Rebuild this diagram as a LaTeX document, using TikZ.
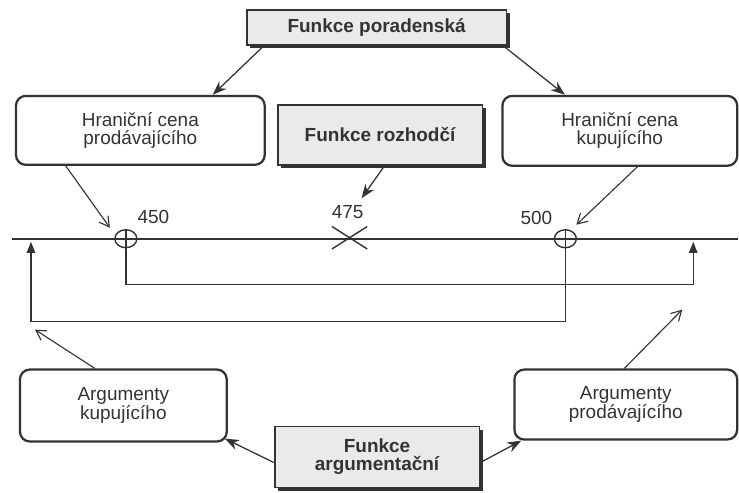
\documentclass[tikz,border=0pt]{standalone}
\usepackage{fontspec}
\setmainfont{Liberation Sans}
\usetikzlibrary{arrows.meta,shadows,shapes.geometric,shapes.misc,calc}
\definecolor{ink}{HTML}{333333}
\definecolor{boxgray}{HTML}{EAEAEA}

\begin{document}
\begin{tikzpicture}[x=0.025cm,y=-0.025cm,
  every node/.style={text=ink,font=\fontsize{13.5}{13}\selectfont,align=center},
  sel/.style={draw=ink,line width=1.6pt,rounded corners=7pt,fill=white},
  fun/.style={draw=ink,line width=1.3pt,fill=boxgray,font=\bfseries\fontsize{13.5}{13}\selectfont,
    drop shadow={shadow xshift=2.2pt,shadow yshift=-2.2pt,fill=ink,opacity=1}},
  pt/.style={draw=ink,ellipse,line width=1pt,minimum width=0.55cm,minimum height=0.45cm,inner sep=0pt},
  ar/.style={draw=ink,line width=0.9pt,-{Stealth[length=10pt,width=7.5pt]}},
  op/.style={draw=ink,line width=0.8pt,-{Straight Barb[length=7pt,width=8pt]}},
  up/.style={draw=ink,line width=1pt,-{Triangle[length=8pt,width=6pt]}}]
\fill[white] (0,0) rectangle (739,493);
\node[fun,minimum width=6.5cm,minimum height=0.875cm] (fp) at (377,27.5) {Funkce poradenská};
\node[sel,minimum width=6.225cm,minimum height=1.725cm] (hp) at (140.5,130.5) {Hraniční cena\\prodávajícího};
\node[fun,minimum width=5.125cm,minimum height=1.5cm] (fr) at (380.5,135) {Funkce rozhodčí};
\node[sel,minimum width=5.875cm,minimum height=1.75cm] (hk) at (620.5,131) {Hraniční cena\\kupujícího};
\node[sel,minimum width=5.175cm,minimum height=1.8cm] (ak) at (123.5,406) {Argumenty\\kupujícího};
\node[sel,minimum width=5.575cm,minimum height=1.75cm] (ap) at (626.5,405) {Argumenty\\prodávajícího};
\node[fun,minimum width=5.125cm,minimum height=1.525cm] (fa) at (377.5,457.5) {Funkce\\argumentační};
\coordinate (l0) at (12,239); \coordinate (l1) at (739,239);
\draw[ink,line width=1.2pt] (l0) -- (l1);
\node[pt] (p450) at (126,239) {}; \node[pt] (p500) at (566,239) {};
\node[cross out,draw=ink,line width=1pt,minimum width=0.85cm,minimum height=0.53cm,inner sep=0pt] (x475) at (350,238) {};
\node (n450) at (153.5,217.5) {450}; \node (n475) at (348,212.5) {475}; \node (n500) at (537,218.5) {500};
\coordinate (t1) at (694,242); \coordinate (t2) at (31,242);
\draw[up] (p450.north) -- (p450.north |- 0,285) -- (t1 |- 0,285) -- (t1);
\draw[up] (p500.north) -- (p500.north |- 0,322) -- (t2 |- 0,322) -- (t2);
\draw[ar] ($(fp.south west)+(18,0)$) -- ($(hp.north)+(72.5,0)$);
\draw[ar] ($(fp.south east)+(-4,0)$) -- ($(hk.north)+(-55,0)$);
\draw[ar] ($(fr.south)+(4.5,0)$) -- ($(n475)+(14,-14)$);
\draw[op] ($(hp.south west)+(51,0)$) -- ($(p450)+(-16,-11)$);
\draw[op] ($(hk.south)+(17.5,0)$) -- ($(p500)+(11,-14)$);
\coordinate (e1) at (35,330); \coordinate (e2) at (683,310);
\draw[op] ($(ak.north)+(-28.5,0)$) -- (e1);
\draw[op] ($(ap.north)+(-1.5,0)$) -- (e2);
\draw[ar] ($(fa.west)+(0,5.5)$) -- ($(ak.south east)+(-3,-4)$);
\draw[ar] ($(fa.east)+(0,5.5)$) -- ($(ap.south west)+(8,0)$);
\end{tikzpicture}
\end{document}
